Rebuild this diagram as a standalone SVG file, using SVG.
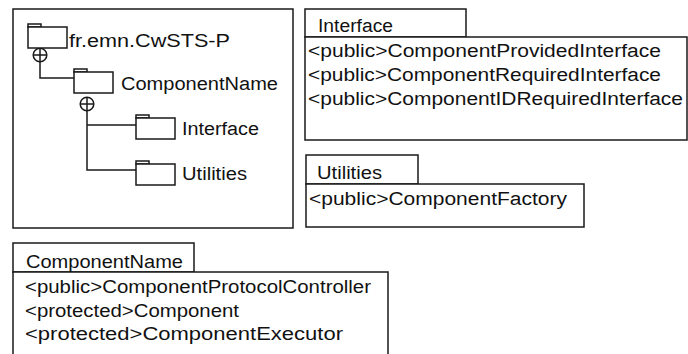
<svg xmlns="http://www.w3.org/2000/svg" width="688" height="354" viewBox="0 0 688 354">
<style>
.box{fill:#fff;stroke:#1a1a1a;stroke-width:1.5}
.ln{fill:none;stroke:#1a1a1a;stroke-width:1.5}
.t{font-family:"Liberation Sans",Arial,sans-serif;font-size:19.2px;fill:#111}
</style>
<defs>
<g id="folder">
<rect class="box" x="0" y="0" width="13" height="3"/>
<rect class="box" x="0" y="3" width="39" height="21"/>
</g>
<g id="plus">
<circle class="box" cx="0" cy="0" r="6.8"/>
<path class="ln" d="M-6.8 0H6.8M0 -6.8V6.8"/>
</g>
</defs>
<rect fill="#fff" width="688" height="354"/>

<g id="tree-frame">
<rect class="box" x="13" y="9" width="280" height="219"/>
</g>

<g id="connectors">
<path class="ln" d="M40 61V78H74"/>
<path class="ln" d="M87 111V170H136M87 125H136"/>
<use href="#plus" x="40" y="55"/>
<use href="#plus" x="87" y="104"/>
</g>

<g id="pkg-root">
<use href="#folder" x="28" y="24"/>
<text class="t" x="69" y="47" textLength="161" lengthAdjust="spacingAndGlyphs">fr.emn.CwSTS-P</text>
</g>
<g id="pkg-componentname">
<use href="#folder" x="74" y="69"/>
<text class="t" x="121" y="90" textLength="157" lengthAdjust="spacingAndGlyphs">ComponentName</text>
</g>
<g id="pkg-interface">
<use href="#folder" x="136" y="115"/>
<text class="t" x="182" y="135" textLength="77" lengthAdjust="spacingAndGlyphs">Interface</text>
</g>
<g id="pkg-utilities">
<use href="#folder" x="136" y="161"/>
<text class="t" x="182" y="180" textLength="65" lengthAdjust="spacingAndGlyphs">Utilities</text>
</g>

<g id="panel-interface">
<rect class="box" x="305" y="9" width="161" height="28"/>
<rect class="box" x="305" y="37" width="382" height="103"/>
<text class="t" x="318" y="32" textLength="75" lengthAdjust="spacingAndGlyphs">Interface</text>
<text class="t" x="308" y="57" textLength="353" lengthAdjust="spacingAndGlyphs">&lt;public&gt;ComponentProvidedInterface</text>
<text class="t" x="308" y="81" textLength="353" lengthAdjust="spacingAndGlyphs">&lt;public&gt;ComponentRequiredInterface</text>
<text class="t" x="308" y="105" textLength="375" lengthAdjust="spacingAndGlyphs">&lt;public&gt;ComponentIDRequiredInterface</text>
</g>

<g id="panel-utilities">
<rect class="box" x="306" y="155" width="112" height="29"/>
<rect class="box" x="306" y="184" width="278" height="43"/>
<text class="t" x="317" y="179" textLength="65" lengthAdjust="spacingAndGlyphs">Utilities</text>
<text class="t" x="309" y="205" textLength="258" lengthAdjust="spacingAndGlyphs">&lt;public&gt;ComponentFactory</text>
</g>

<g id="panel-componentname">
<rect class="box" x="13" y="243" width="181" height="29"/>
<path class="box" d="M13 360V272H388V360"/>
<text class="t" x="26" y="268" textLength="157" lengthAdjust="spacingAndGlyphs">ComponentName</text>
<text class="t" x="25" y="293" textLength="346" lengthAdjust="spacingAndGlyphs">&lt;public&gt;ComponentProtocolController</text>
<text class="t" x="25" y="317" textLength="214" lengthAdjust="spacingAndGlyphs">&lt;protected&gt;Component</text>
<text class="t" x="25" y="340" textLength="318" lengthAdjust="spacingAndGlyphs">&lt;protected&gt;ComponentExecutor</text>
</g>
</svg>
